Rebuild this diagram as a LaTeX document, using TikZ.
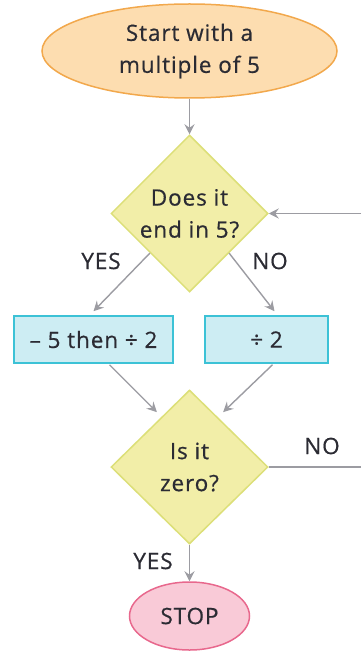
\documentclass[tikz,border=0pt]{standalone}
\usepackage{fontspec}
\setmainfont{Open Sans}[LetterSpace=4,FakeBold=0.6]
\usetikzlibrary{shapes.geometric,arrows.meta,calc}
\definecolor{txt}{HTML}{2B2B33}
\definecolor{startfill}{HTML}{FDDDB0}
\definecolor{startdraw}{HTML}{F2A84C}
\definecolor{decfill}{HTML}{F2EEA8}
\definecolor{decdraw}{HTML}{DCDF78}
\definecolor{boxfill}{HTML}{CDEDF3}
\definecolor{boxdraw}{HTML}{3CC2D6}
\definecolor{stopfill}{HTML}{F9CAD7}
\definecolor{stopdraw}{HTML}{E8688D}
\definecolor{arr}{HTML}{9C9CA2}
\begin{document}
\begin{tikzpicture}[x=1pt,y=-1pt,
  every node/.style={text=txt,font=\fontsize{22.5}{32}\selectfont},
  startnode/.style={ellipse,fill=startfill,draw=startdraw,line width=1.5pt,inner sep=0pt,align=center},
  decnode/.style={diamond,fill=decfill,draw=decdraw,line width=1.5pt,inner sep=0pt,align=center,minimum width=157pt,minimum height=157pt},
  procnode/.style={rectangle,fill=boxfill,draw=boxdraw,line width=1.5pt,inner sep=0pt,minimum height=47pt},
  lbl/.style={inner sep=0pt},
  conn/.style={draw=arr,line width=1.4pt,-{Stealth[length=10pt,width=10pt,inset=3.5pt]}},
  line/.style={draw=arr,line width=1.4pt}]
\useasboundingbox (0,0) rectangle (361,652);
\node[startnode,minimum width=295pt,minimum height=94pt] (start) at (189.5,51) {Start with a\\multiple of 5};
\node[decnode] (d1) at (189.5,213.5) {Does it\\end in 5?};
\node[procnode,minimum width=159pt] (b1) at (93.5,339.5) {– 5 then ÷ 2};
\node[procnode,minimum width=123pt] (b2) at (266.5,339.5) {÷ 2};
\node[decnode,minimum height=154pt] (d2) at (189.5,467) {Is it\\zero?};
\node[ellipse,fill=stopfill,draw=stopdraw,line width=1.5pt,inner sep=0pt,minimum width=120pt,minimum height=68pt] (stop) at (189.5,616) {STOP};
\coordinate (in1) at (361,213.5);
\coordinate (out2) at (361,467);
\node[lbl] (yes1) at (101,261) {YES};
\node[lbl] (no1) at (270,261) {NO};
\node[lbl] (no2) at (322,446) {NO};
\node[lbl] (yes2) at (153,561) {YES};
\draw[conn] (start.south) -- (d1.north);
\draw[conn] (in1) -- (d1.east);
\draw[conn] (d1.south west) -- ($(b1.north)+(0,-4)$);
\draw[conn] (d1.south east) -- ($(b2.north)+(8,-4)$);
\draw[conn] ($(b1.south)+(16,1)$) -- ($(d2.north west)+(7,-16)$);
\draw[conn] ($(b2.south)+(6,1)$) -- ($(d2.north east)+(-6,-16)$);
\draw[line] (d2.east) -- (out2);
\draw[conn] (d2.south) -- (stop.north);
\end{tikzpicture}
\end{document}
